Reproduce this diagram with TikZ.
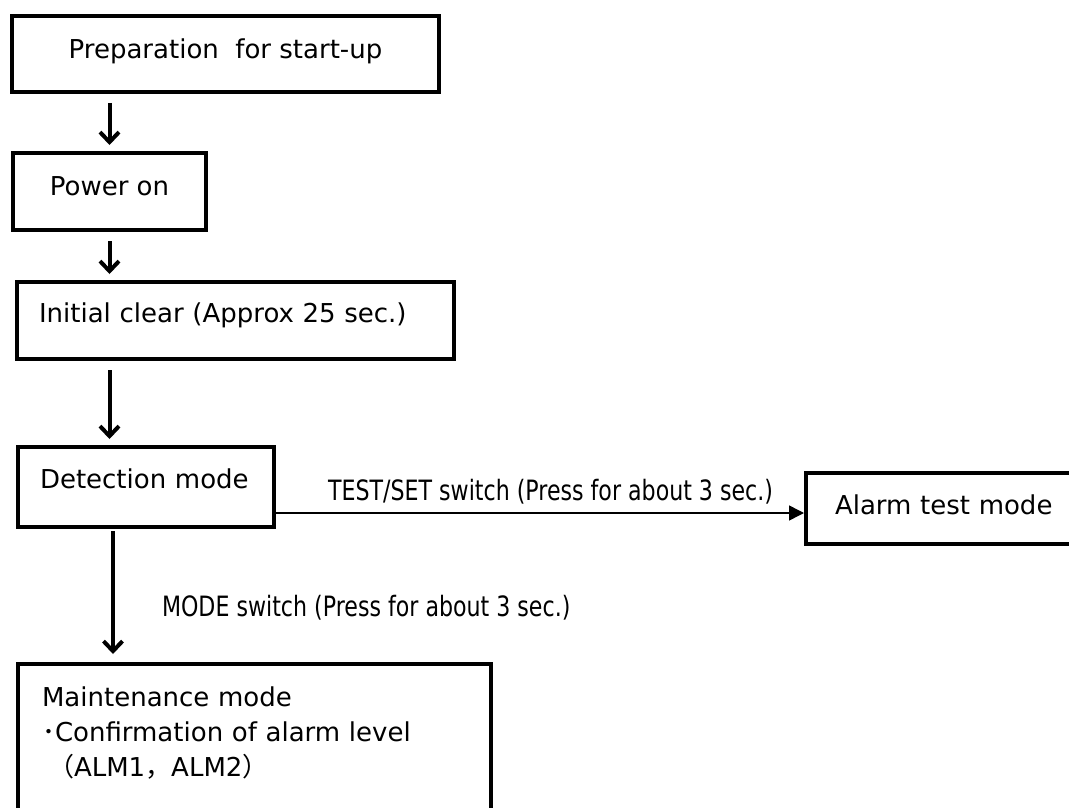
\documentclass[tikz,border=0pt]{standalone}
\usepackage{fontspec}
\setmainfont{DejaVu Sans}
\newfontfamily\cjk{Noto Sans CJK JP}
\newfontfamily\lblfont[FakeStretch=0.79]{DejaVu Sans}
\usetikzlibrary{arrows.meta}
\tikzset{
  stepbox/.style={draw, line width=4pt, anchor=north west, inner ysep=0pt, text depth=10pt, font=\fontsize{26}{35}\selectfont},
  flow/.style={line width=4pt, -{Straight Barb[length=10pt,width=19pt,line width=4pt]}, shorten <=9pt, shorten >=6pt},
  lbl/.style={inner sep=0pt, font=\lblfont\fontsize{28}{30}\selectfont},
}
\begin{document}
\begin{tikzpicture}[x=1pt,y=-1pt]
\useasboundingbox (0,0) rectangle (1069,808);
% boxes of the start-up sequence
\node[stepbox, minimum width=427pt, minimum height=76pt] (prep) at (10,14) {Preparation\ \ for start-up};
\node[stepbox, minimum width=193pt, minimum height=77pt] (power) at (11,151) {Power on};
\node[stepbox, minimum height=77pt, inner xsep=22pt, text width=393pt, align=left, text depth=16pt] (init) at (15,280) {Initial clear (Approx 25 sec.)};
\node[stepbox, minimum height=80pt, inner xsep=22pt, text width=212pt, align=left, text depth=16pt] (detect) at (16,445) {Detection mode};
\node[stepbox, minimum height=71pt, inner xsep=29pt, text width=240pt, align=left, text depth=7pt] (alarm) at (804,471) {Alarm test mode};
\node[stepbox, inner xsep=24pt, inner ysep=23pt, text width=425pt, align=left, text depth=150pt] (maint) at (16,662)
  {Maintenance mode\\{\cjk ･}Confirmation of alarm level\\\hspace*{6pt}{\cjk （}ALM1{\cjk ，}ALM2{\cjk ）}};
% arrows down the left side
\foreach \a/\b in {prep/power, power/init, init/detect}
\draw[flow] (\a.south -| power.south) -- (\b.north -| power.south);
\coordinate (dm) at ([xshift=97pt]detect.south west);
\draw[flow, shorten <=2pt, shorten >=8pt] (dm) -- node[lbl, right=47pt, pos=0.59] {MODE switch (Press for about 3 sec.)} (dm |- maint.north);
% switch to the alarm test
\coordinate (dt) at ([yshift=16pt]detect.south east);
\draw[line width=1.5pt, -{Triangle[length=15pt,width=15pt]}] (dt) -- node[lbl, above=8pt, pos=0.52] {TEST/SET switch (Press for about 3 sec.)} (dt -| alarm.west);
\end{tikzpicture}
\end{document}
